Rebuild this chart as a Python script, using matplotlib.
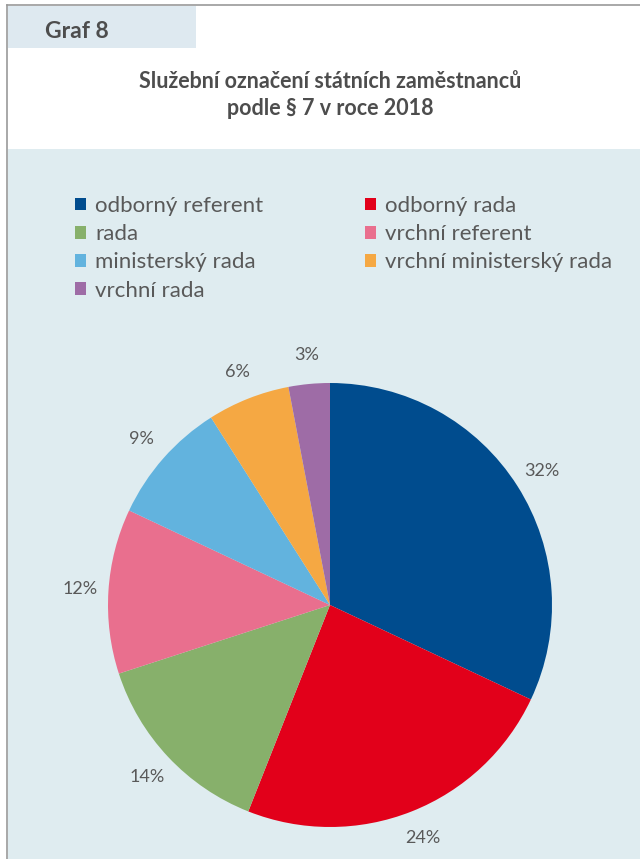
import matplotlib.pyplot as plt
from matplotlib.patches import Rectangle
from matplotlib.lines import Line2D

# data
labels = ['odborný referent', 'odborný rada', 'rada', 'vrchní referent',
          'ministerský rada', 'vrchní ministerský rada', 'vrchní rada']
values = [32, 24, 14, 12, 9, 6, 3]
colors = ['#004C8E', '#E2001A', '#87B06B', '#E96F8E', '#62B3DE', '#F5A843', '#9E6CA6']

W, H = 640, 859
plt.rcParams['font.family'] = ['Lato', 'DejaVu Sans']
fig = plt.figure(figsize=(W / 100, H / 100), dpi=100)
fig.patch.set_facecolor('white')


def px_rect(x0, y0, x1, y1, **kw):
    # rect in pixel coords (top-left origin)
    fig.add_artist(Rectangle((x0 / W, 1 - y1 / H), (x1 - x0) / W, (y1 - y0) / H,
                             transform=fig.transFigure, **kw))


# panel + header tab
px_rect(8, 149, W, H, facecolor='#DFECF0', edgecolor='none', zorder=0)
px_rect(8, 6, 196, 48, facecolor='#DEE9F0', edgecolor='none', zorder=0)
fig.add_artist(Line2D([7 / W, 7 / W], [0, 1 - 5 / H], transform=fig.transFigure,
                      color='#9A9A9A', lw=1.2))
fig.add_artist(Line2D([7 / W, 1], [1 - 5 / H, 1 - 5 / H], transform=fig.transFigure,
                      color='#9A9A9A', lw=1.2))

fig.text(77 / W, 1 - 31 / H, 'Graf 8', ha='center', va='center', fontsize=16.5,
         fontweight='bold', color='#4D4D4D')
fig.text(330 / W, 1 - 95 / H, 'Služební označení státních zaměstnanců\npodle § 7 v roce 2018',
         ha='center', va='center', fontsize=15.5, fontweight='bold', color='#4D4D4D',
         linespacing=1.35)

# pie
cx, cy, r = 330, 605, 222
ax = fig.add_axes([(cx - r) / W, 1 - (cy + r) / H, 2 * r / W, 2 * r / H])
wedges, texts, autotexts = ax.pie(values, colors=colors, startangle=90, counterclock=False,
                                  autopct='%d%%', pctdistance=1.13,
                                  textprops=dict(fontsize=13, color='#595959'),
                                  wedgeprops=dict(linewidth=0))
ax.set_aspect('auto')
ax.set_xlim(-1, 1)
ax.set_ylim(-1, 1)
ax.axis('off')

# legend, row-wise order
order = [0, 2, 4, 6, 1, 3, 5]
handles = [Rectangle((0, 0), 1, 1, facecolor=colors[i]) for i in order]
fig.legend(handles, [labels[i] for i in order], ncol=2, frameon=False,
           loc='upper left', bbox_to_anchor=(55 / W, 1 - 176 / H),
           fontsize=16, labelcolor='#595959', handlelength=0.5, handleheight=0.5,
           handletextpad=0.4, columnspacing=4.6, labelspacing=0.37)

fig.savefig('out.png', dpi=100)
